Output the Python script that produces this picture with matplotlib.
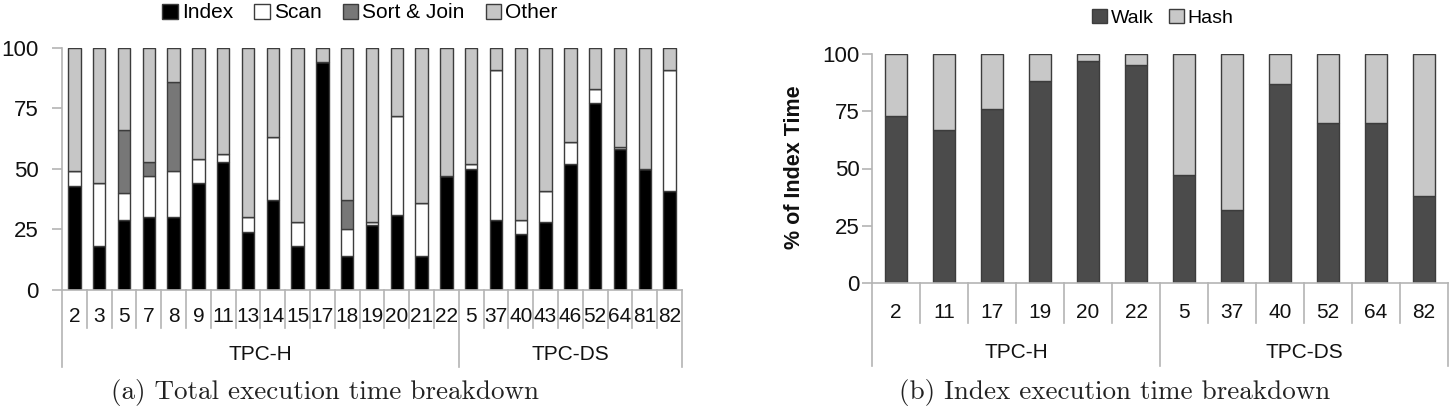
import matplotlib
matplotlib.use('Agg')
import matplotlib.pyplot as plt
import numpy as np

plt.rcParams['font.family'] = ['Liberation Sans', 'DejaVu Sans']

# Left chart: total execution time breakdown (%)
tpch_q = ['2', '3', '5', '7', '8', '9', '11', '13', '14', '15', '17', '18', '19', '20', '21', '22']
tpcds_q = ['5', '37', '40', '43', '46', '52', '64', '81', '82']
index_pct = [43, 18, 29, 30, 30, 44, 53, 24, 37, 18, 94, 14, 27, 31, 14, 47,
             50, 29, 23, 28, 52, 77, 58, 50, 41]
scan_pct = [6, 26, 11, 17, 19, 10, 3, 6, 26, 10, 0, 11, 1, 41, 22, 0,
            2, 62, 6, 13, 9, 6, 1, 0, 50]
sortjoin_pct = [0, 0, 26, 6, 37, 0, 0, 0, 0, 0, 0, 12, 0, 0, 0, 0,
                0, 0, 0, 0, 0, 0, 0, 0, 0]

# Right chart: index execution time breakdown (%)
idx_tpch_q = ['2', '11', '17', '19', '20', '22']
idx_tpcds_q = ['5', '37', '40', '52', '64', '82']
walk_pct = [73, 67, 76, 88, 97, 95, 47, 32, 87, 70, 70, 38]

W, H = 1450, 416
fig = plt.figure(figsize=(W / 100, H / 100), dpi=100)

spine_c = '#b4b4b4'
edge_c = '#3c3c3c'


def style_axis(ax, pad):
    for s in ['top', 'right']:
        ax.spines[s].set_visible(False)
    ax.spines['left'].set_color(spine_c)
    ax.spines['bottom'].set_color(spine_c)
    ax.spines['left'].set_linewidth(1.2)
    ax.spines['bottom'].set_linewidth(1.2)
    ax.set_ylim(0, 100)
    ax.set_yticks([0, 25, 50, 75, 100])
    ax.tick_params(axis='y', direction='out', length=7, width=1.2, color=spine_c,
                   labelsize=16, pad=pad, labelcolor='#111111')
    ax.set_xticks([])


def draw_separators(ax, n, groups, names, minor_y, group_y, lab_y, grp_y):
    tr = ax.get_xaxis_transform()
    labels = names[0] + names[1]
    for i in range(n + 1):
        x = i - 0.5
        bottom = group_y if x in groups else minor_y
        ax.plot([x, x], [0, bottom], transform=tr, color=spine_c, lw=1.2, clip_on=False)
    for i, lab in enumerate(labels):
        ax.text(i, lab_y, lab, transform=tr, ha='center', va='center', fontsize=15,
                color='#111111')
    split = len(names[0])
    ax.text((split - 1) / 2, grp_y, 'TPC-H', transform=tr, ha='center', va='center',
            fontsize=15, color='#111111')
    ax.text((split + n - 1) / 2, grp_y, 'TPC-DS', transform=tr, ha='center', va='center',
            fontsize=15, color='#111111')


# ---- left chart ----
ax1 = fig.add_axes([62 / W, 1 - 290 / H, 620 / W, 242.3 / H])
n1 = len(tpch_q) + len(tpcds_q)
x1 = np.arange(n1)
idx = np.array(index_pct)
scn = np.array(scan_pct)
srt = np.array(sortjoin_pct)
oth = 100 - idx - scn - srt
bw = 0.5
b_idx = ax1.bar(x1, idx, bw, color='black', edgecolor=edge_c, lw=1, label='Index')
b_scn = ax1.bar(x1, scn, bw, bottom=idx, color='white', edgecolor=edge_c, lw=1, label='Scan')
b_srt = ax1.bar(x1, srt, bw, bottom=idx + scn, color='#777777', edgecolor=edge_c, lw=1,
                label='Sort & Join')
b_oth = ax1.bar(x1, oth, bw, bottom=idx + scn + srt, color='#c6c6c6', edgecolor=edge_c, lw=1,
                label='Other')
ax1.set_xlim(-0.5, n1 - 0.5)
style_axis(ax1, 10)
draw_separators(ax1, n1, [-0.5, len(tpch_q) - 0.5, n1 - 0.5], [tpch_q, tpcds_q],
                -38 / 242.3, -77 / 242.3, -27 / 242.3, -65 / 242.3)
fig.legend(handles=[b_idx, b_scn, b_srt, b_oth], loc='center', bbox_to_anchor=(360 / W, 1 - 13 / H),
           ncol=4, frameon=False, fontsize=15, handlelength=0.75, handleheight=0.75,
           handletextpad=0.2, columnspacing=1.0, borderpad=0)

# ---- right chart ----
ax2 = fig.add_axes([872 / W, 1 - 283 / H, 576 / W, 229 / H])
n2 = len(idx_tpch_q) + len(idx_tpcds_q)
x2 = np.arange(n2)
walk = np.array(walk_pct)
hsh = 100 - walk
bw2 = 0.44
b_walk = ax2.bar(x2, walk, bw2, color='#4b4b4b', edgecolor=edge_c, lw=1, label='Walk')
b_hash = ax2.bar(x2, hsh, bw2, bottom=walk, color='#c8c8c8', edgecolor=edge_c, lw=1, label='Hash')
ax2.set_xlim(-0.5, n2 - 0.5)
style_axis(ax2, 2)
draw_separators(ax2, n2, [-0.5, len(idx_tpch_q) - 0.5, n2 - 0.5], [idx_tpch_q, idx_tpcds_q],
                -40 / 229, -83 / 229, -29 / 229, -70 / 229)
ax2.set_ylabel('% of Index Time', fontsize=15.5, fontweight='bold', color='#111111')
ax2.yaxis.set_label_coords((805 - 872) / 576, 0.507)
fig.legend(handles=[b_walk, b_hash], loc='center', bbox_to_anchor=(1163 / W, 1 - 18 / H),
           ncol=2, frameon=False, fontsize=14, handlelength=0.75, handleheight=0.75,
           handletextpad=0.2, columnspacing=0.8, borderpad=0)

# captions
fig.text(325 / W, 1 - 392 / H, '(a) Total execution time breakdown', ha='center', va='center',
         fontsize=19.5, family=['cmr10', 'DejaVu Serif'], color='#222222')
fig.text(1115 / W, 1 - 393 / H, '(b) Index execution time breakdown', ha='center', va='center',
         fontsize=19.5, family=['cmr10', 'DejaVu Serif'], color='#222222')

fig.savefig('out.png', dpi=100)
